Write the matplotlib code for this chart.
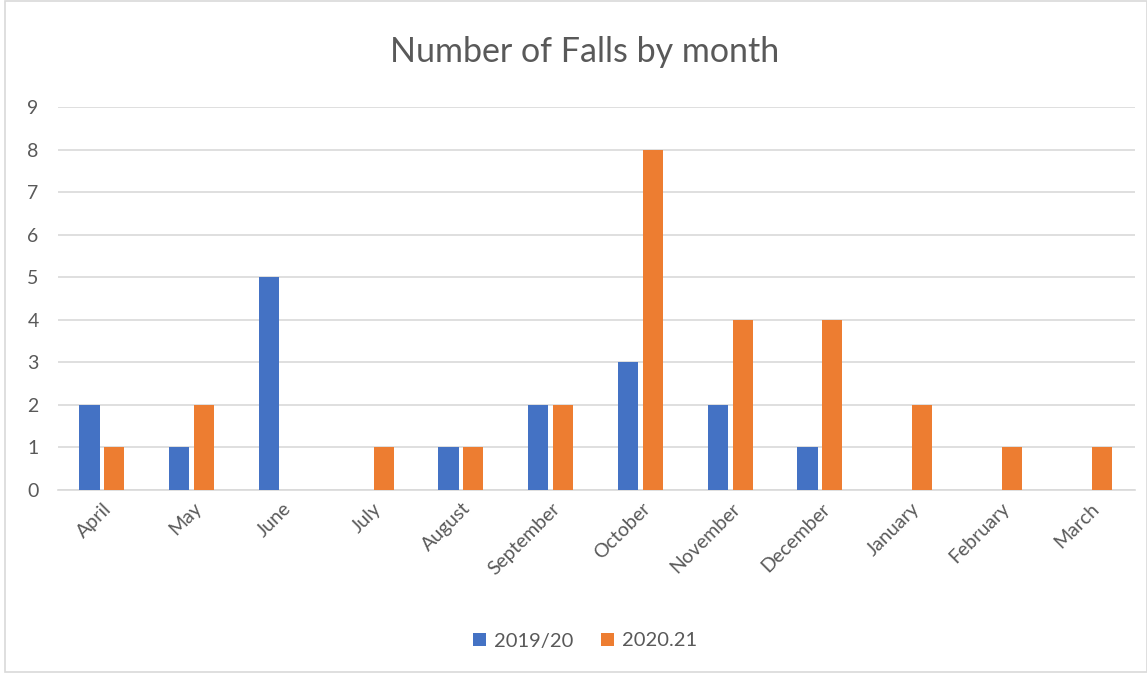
import numpy as np
import matplotlib.pyplot as plt
from matplotlib.patches import Rectangle

months = ['April', 'May', 'June', 'July', 'August', 'September', 'October',
          'November', 'December', 'January', 'February', 'March']
falls_1920 = [2, 1, 5, 0, 1, 2, 3, 2, 1, 0, 0, 0]
falls_2021 = [1, 2, 0, 1, 1, 2, 8, 4, 4, 2, 1, 1]
series_names = ['2019/20', '2020.21']

plt.rcParams['font.family'] = ['Lato', 'DejaVu Sans']
grey = '#595959'

fig = plt.figure(figsize=(11.47, 6.75), dpi=100)
ax = fig.add_axes([58 / 1147, 1 - 490 / 675, (1135 - 58) / 1147, (490 - 107) / 675])

x = np.arange(len(months))
w = 0.223
off = 0.139
ax.bar(x - off - 0.01, falls_1920, w, color='#4472C4', label=series_names[0], zorder=3)
ax.bar(x + off - 0.01, falls_2021, w, color='#ED7D31', label=series_names[1], zorder=3)

ax.set_xlim(-0.5, len(months) - 0.5)
ax.set_ylim(0, 9)
ax.set_yticks(range(0, 10))
ax.yaxis.grid(True, color='#D9D9D9', linewidth=1.2, zorder=0)
ax.set_axisbelow(True)
for s in ['top', 'right', 'left']:
    ax.spines[s].set_visible(False)
ax.spines['bottom'].set_color('#D9D9D9')
ax.spines['bottom'].set_linewidth(1.2)
ax.tick_params(axis='both', length=0, colors=grey, labelsize=14)
ax.tick_params(axis='y', pad=14)
ax.set_xticks(x)
ax.set_xticklabels(months, rotation=45, ha='right', va='top', rotation_mode='anchor')
ax.tick_params(axis='x', pad=7)

fig.text(585 / 1147, 1 - 52 / 675, 'Number of Falls by month', ha='center', va='center',
         fontsize=24.5, color=grey)

ax.legend(loc='center', bbox_to_anchor=(585 / 1147, 1 - 641 / 675), bbox_transform=fig.transFigure,
          ncol=2, frameon=False, fontsize=14.5, labelcolor=grey, handlelength=0.65, handleheight=0.65,
          columnspacing=1.4, handletextpad=0.4)

fig.patches.append(Rectangle((5 / 1147, 3 / 675), 1 - 5 / 1147, 1 - 3 / 675 - 0.5 / 675,
                             transform=fig.transFigure, fill=False, edgecolor='#D9D9D9', linewidth=1.2))

fig.savefig('out.png', dpi=100)
